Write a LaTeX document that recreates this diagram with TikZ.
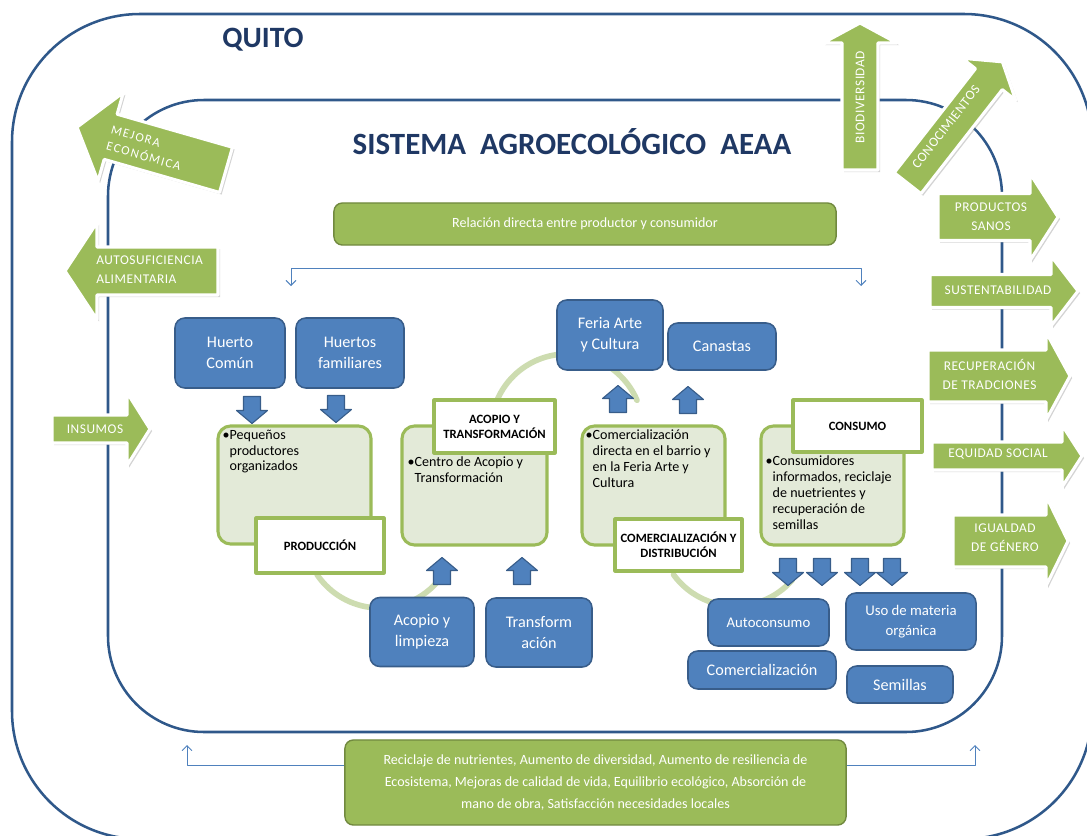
\documentclass[tikz,border=0pt]{standalone}
\usepackage{fontspec}
\setmainfont{Carlito}
\newfontfamily\arrowfont{Carlito}[LetterSpace=4]
\newfontfamily\wideletters{Carlito}[LetterSpace=11]
\usetikzlibrary{calc,shadows,arrows.meta}
\definecolor{navy}{RGB}{31,56,100}
\definecolor{frame}{RGB}{47,88,138}
\definecolor{leaf}{RGB}{155,187,89}
\definecolor{leafdark}{RGB}{113,137,63}
\definecolor{leaflight}{RGB}{227,234,216}
\definecolor{ring}{RGB}{205,220,176}
\definecolor{boxblue}{RGB}{79,129,189}
\definecolor{boxblueline}{RGB}{56,93,138}
\begin{document}
\begin{tikzpicture}[x=0.025cm,y=-0.025cm,line join=round,line cap=round,
>={Straight Barb[length=3.5pt,width=7pt]},
frameline/.style={draw=frame,line width=1.8pt},
link/.style={draw=boxblue,line width=.7pt,<->},
ringline/.style={draw=ring,line width=4pt},
bluebox/.style={draw=boxblueline,line width=1.1pt,fill=boxblue,rounded corners=7pt,text=white,align=center,inner sep=0pt,font=\fontsize{11.5}{15}\selectfont},
stagebox/.style={draw=leaf,line width=2.2pt,fill=leaflight,rounded corners=9pt,inner sep=0pt},
stagetext/.style={anchor=north west,align=left,inner sep=0pt,text=black,font=\fontsize{10}{11.3}\selectfont},
stagelabel/.style={draw=leaf,line width=2.2pt,fill=white,align=center,inner sep=0pt,font=\bfseries\fontsize{9}{10.6}\selectfont,drop shadow={shadow xshift=1pt,shadow yshift=-1pt,opacity=.3}},
greenbar/.style={draw=leafdark,line width=1pt,fill=leaf,rounded corners=6pt,text=white,align=center,inner sep=0pt},
greenarrow/.style={fill=leaf,draw=white,line width=2.2pt,drop shadow={shadow xshift=1.5pt,shadow yshift=-1.5pt,opacity=.35}},
bluearrow/.style={fill=boxblue,draw=boxblueline,line width=.8pt},
arrowtext/.style={text=white,align=center,inner sep=0pt,font=\arrowfont\fontsize{9.5}{13.5}\selectfont}]
\useasboundingbox (0,0) rectangle (1087,836);
\draw[frameline,rounded corners=3.2cm] (12,14) rectangle (1092,839);
\draw[frameline,rounded corners=2.4cm] (108,100) rectangle (1002,732);
\path
(291,286) coordinate (topL)
(861,286) coordinate (topR)
(187,745) coordinate (botL)
(975,745) coordinate (botR)
(380,532) coordinate (ring1)
(567,430) coordinate (ring2)
(735,530) coordinate (ring3)
;
\draw[link] (topL)--(291,268)--(861,268)--(topR);
\draw[link] (botL)--(187,765)--(975,765)--(botR);
\draw[ringline] ($(ring1)+(34:76)$) arc (-34:-146:1.9cm);
\draw[ringline] ($(ring2)+(203:76)$) arc (157:23:1.9cm);
\draw[ringline] ($(ring3)+(144:76)$) arc (-144:-41:1.9cm);

\node[stagebox,minimum width=3.825cm,minimum height=2.95cm] (prodbox) at (294.5,485) {};
\node[stagebox,minimum width=3.625cm,minimum height=2.975cm] (acobox) at (474.5,485.5) {};
\node[stagebox,minimum width=3.575cm,minimum height=2.975cm] (combox) at (653.5,485.5) {};
\node[stagebox,minimum width=3.575cm,minimum height=2.975cm] (consbox) at (832.5,485.5) {};
\node[stagetext] (prodtxt) at ([shift={(6,5)}]prodbox.north west) {•Pequeños\\\hphantom{•}productores\\\hphantom{•}organizados};
\node[stagetext] (acotxt) at ([shift={(7,32)}]acobox.north west) {•Centro de Acopio y\\\hphantom{•}Transformación};
\node[stagetext] (comtxt) at ([shift={(5,5)}]combox.north west) {•Comercialización\\\hphantom{•}directa en el barrio y\\\hphantom{•}en la Feria Arte y\\\hphantom{•}Cultura};
\node[stagetext] (constxt) at ([shift={(6,31)}]consbox.north west) {•Consumidores\\\hphantom{•}informados, reciclaje\\\hphantom{•}de nuetrientes y\\\hphantom{•}recuperación de\\\hphantom{•}semillas};

\node[stagelabel,minimum width=3.2cm,minimum height=1.375cm] (prodlab) at (320,545.5) {PRODUCCIÓN};
\node[stagelabel,minimum width=3.025cm,minimum height=1.325cm] (acolab) at (494.5,426.5) {ACOPIO Y\\TRANSFORMACIÓN};
\node[stagelabel,minimum width=3.175cm,minimum height=1.3cm] (comlab) at (678.5,545) {COMERCIALIZACIÓN Y\\DISTRIBUCIÓN};
\node[stagelabel,minimum width=3.225cm,minimum height=1.3cm] (conslab) at (857.5,426) {CONSUMO};

\node[bluebox,minimum width=2.75cm,minimum height=1.75cm] (hcomun) at (230,353) {Huerto\\Común};
\node[bluebox,minimum width=2.7cm,minimum height=1.75cm] (hfam) at (350,353) {Huertos\\familiares};
\node[bluebox,minimum width=2.65cm,minimum height=1.75cm] (feria) at (610,335) {Feria Arte\\y Cultura};
\node[bluebox,minimum width=2.7cm,minimum height=1.175cm] (canastas) at (722,346.5) {Canastas};
\node[bluebox,minimum width=2.6cm,minimum height=1.725cm] (acopio) at (422,632) {Acopio y\\limpieza};
\node[bluebox,minimum width=2.65cm,minimum height=1.725cm] (transf) at (539,632.5) {Transform\\ación};
\node[bluebox,font=\fontsize{10.5}{14}\selectfont,minimum width=3.025cm,minimum height=1.175cm] (autocons) at (768.5,622.5) {Autoconsumo};
\node[bluebox,minimum width=3.7cm,minimum height=.95cm] (comerc) at (762,670) {Comercialización};
\node[bluebox,font=\fontsize{10.5}{14}\selectfont,minimum width=3.25cm,minimum height=1.425cm] (uso) at (911,621.5) {Uso de materia\\orgánica};
\node[bluebox,minimum width=2.65cm,minimum height=.925cm] (semillas) at (900,684.5) {Semillas};

\foreach \x/\y/\aw in {252/410/-90,336/409/-90,442/571/90,522/571/90,618/399/90,688/400/90,788/572/-90,822/572/-90,860/572/-90,892/572/-90}
\draw[bluearrow,shift={(\x,\y)},rotate=\aw] (-13.5,-8.5)--(0.5,-8.5)--(0.5,-15.5)--(13.5,0)--(0.5,15.5)--(0.5,8.5)--(-13.5,8.5)--cycle;

\node[greenbar,minimum width=12.55cm,minimum height=1.05cm,font=\fontsize{10}{12}\selectfont] (relacion) at (585,224) {Relación directa entre productor y consumidor};
\node[greenbar,minimum width=12.525cm,minimum height=2.125cm,font=\fontsize{10}{15.5}\selectfont] (beneficios) at (595.5,782.5) {Reciclaje de nutrientes, Aumento de diversidad, Aumento de resiliencia de\\Ecosistema, Mejoras de calidad de vida, Equilibrio ecológico, Absorción de\\mano de obra, Satisfacción necesidades locales};

\foreach \x/\y/\aw/\len/\sw/\hw/\hl in {151.5/148.5/164/155/47/92/35,141.5/271/180/153/48/97/32,101/429/0/98/28/73/23,860/96.5/90/147/36/74/20,955/122.5/52/154/34/68/22,998/217/0/120/47/87/28,1004/291/0/148/33/70/27,999/376/0/142/52/88/24,1007/456/0/150/28/62/20,1010.5/541/0/115/52/90/22}
\draw[greenarrow,shift={(\x,\y)},rotate=\aw] (-\len/2,-\sw/2)--(\len/2-\hl,-\sw/2)--(\len/2-\hl,-\hw/2)--(\len/2,0)--(\len/2-\hl,\hw/2)--(\len/2-\hl,\sw/2)--(-\len/2,\sw/2)--cycle;

\node[arrowtext,rotate=-16,align=left,font=\wideletters\fontsize{9}{12}\selectfont] (mejora) at (146,148) {MEJORA\\ECONÓMICA};
\node[arrowtext,align=left,anchor=west] (autosuf) at (96,270) {AUTOSUFICIENCIA\\ALIMENTARIA};
\node[arrowtext] (insumos) at (95,429) {INSUMOS};
\node[arrowtext,rotate=90] (biodiv) at (860,97) {BIODIVERSIDAD};
\node[arrowtext,rotate=52] (conocim) at (946,127) {CONOCIMIENTOS};
\node[arrowtext] (prodsanos) at (991,217) {PRODUCTOS\\SANOS};
\node[arrowtext] (sustent) at (998,290) {SUSTENTABILIDAD};
\node[arrowtext] (recup) at (989.5,374.5) {RECUPERACIÓN\\DE TRADCIONES};
\node[arrowtext] (equidad) at (998,454) {EQUIDAD SOCIAL};
\node[arrowtext] (igualdad) at (1005,537.5) {IGUALDAD\\DE GÉNERO};

\node[font=\bfseries\fontsize{21}{25}\selectfont,text=navy] (quito) at (263,40) {QUITO};
\node[font=\bfseries\fontsize{22}{26}\selectfont,text=navy] (sistema) at (572,142) {SISTEMA\ \ AGROECOLÓGICO\ \ AEAA};
\end{tikzpicture}
\end{document}
